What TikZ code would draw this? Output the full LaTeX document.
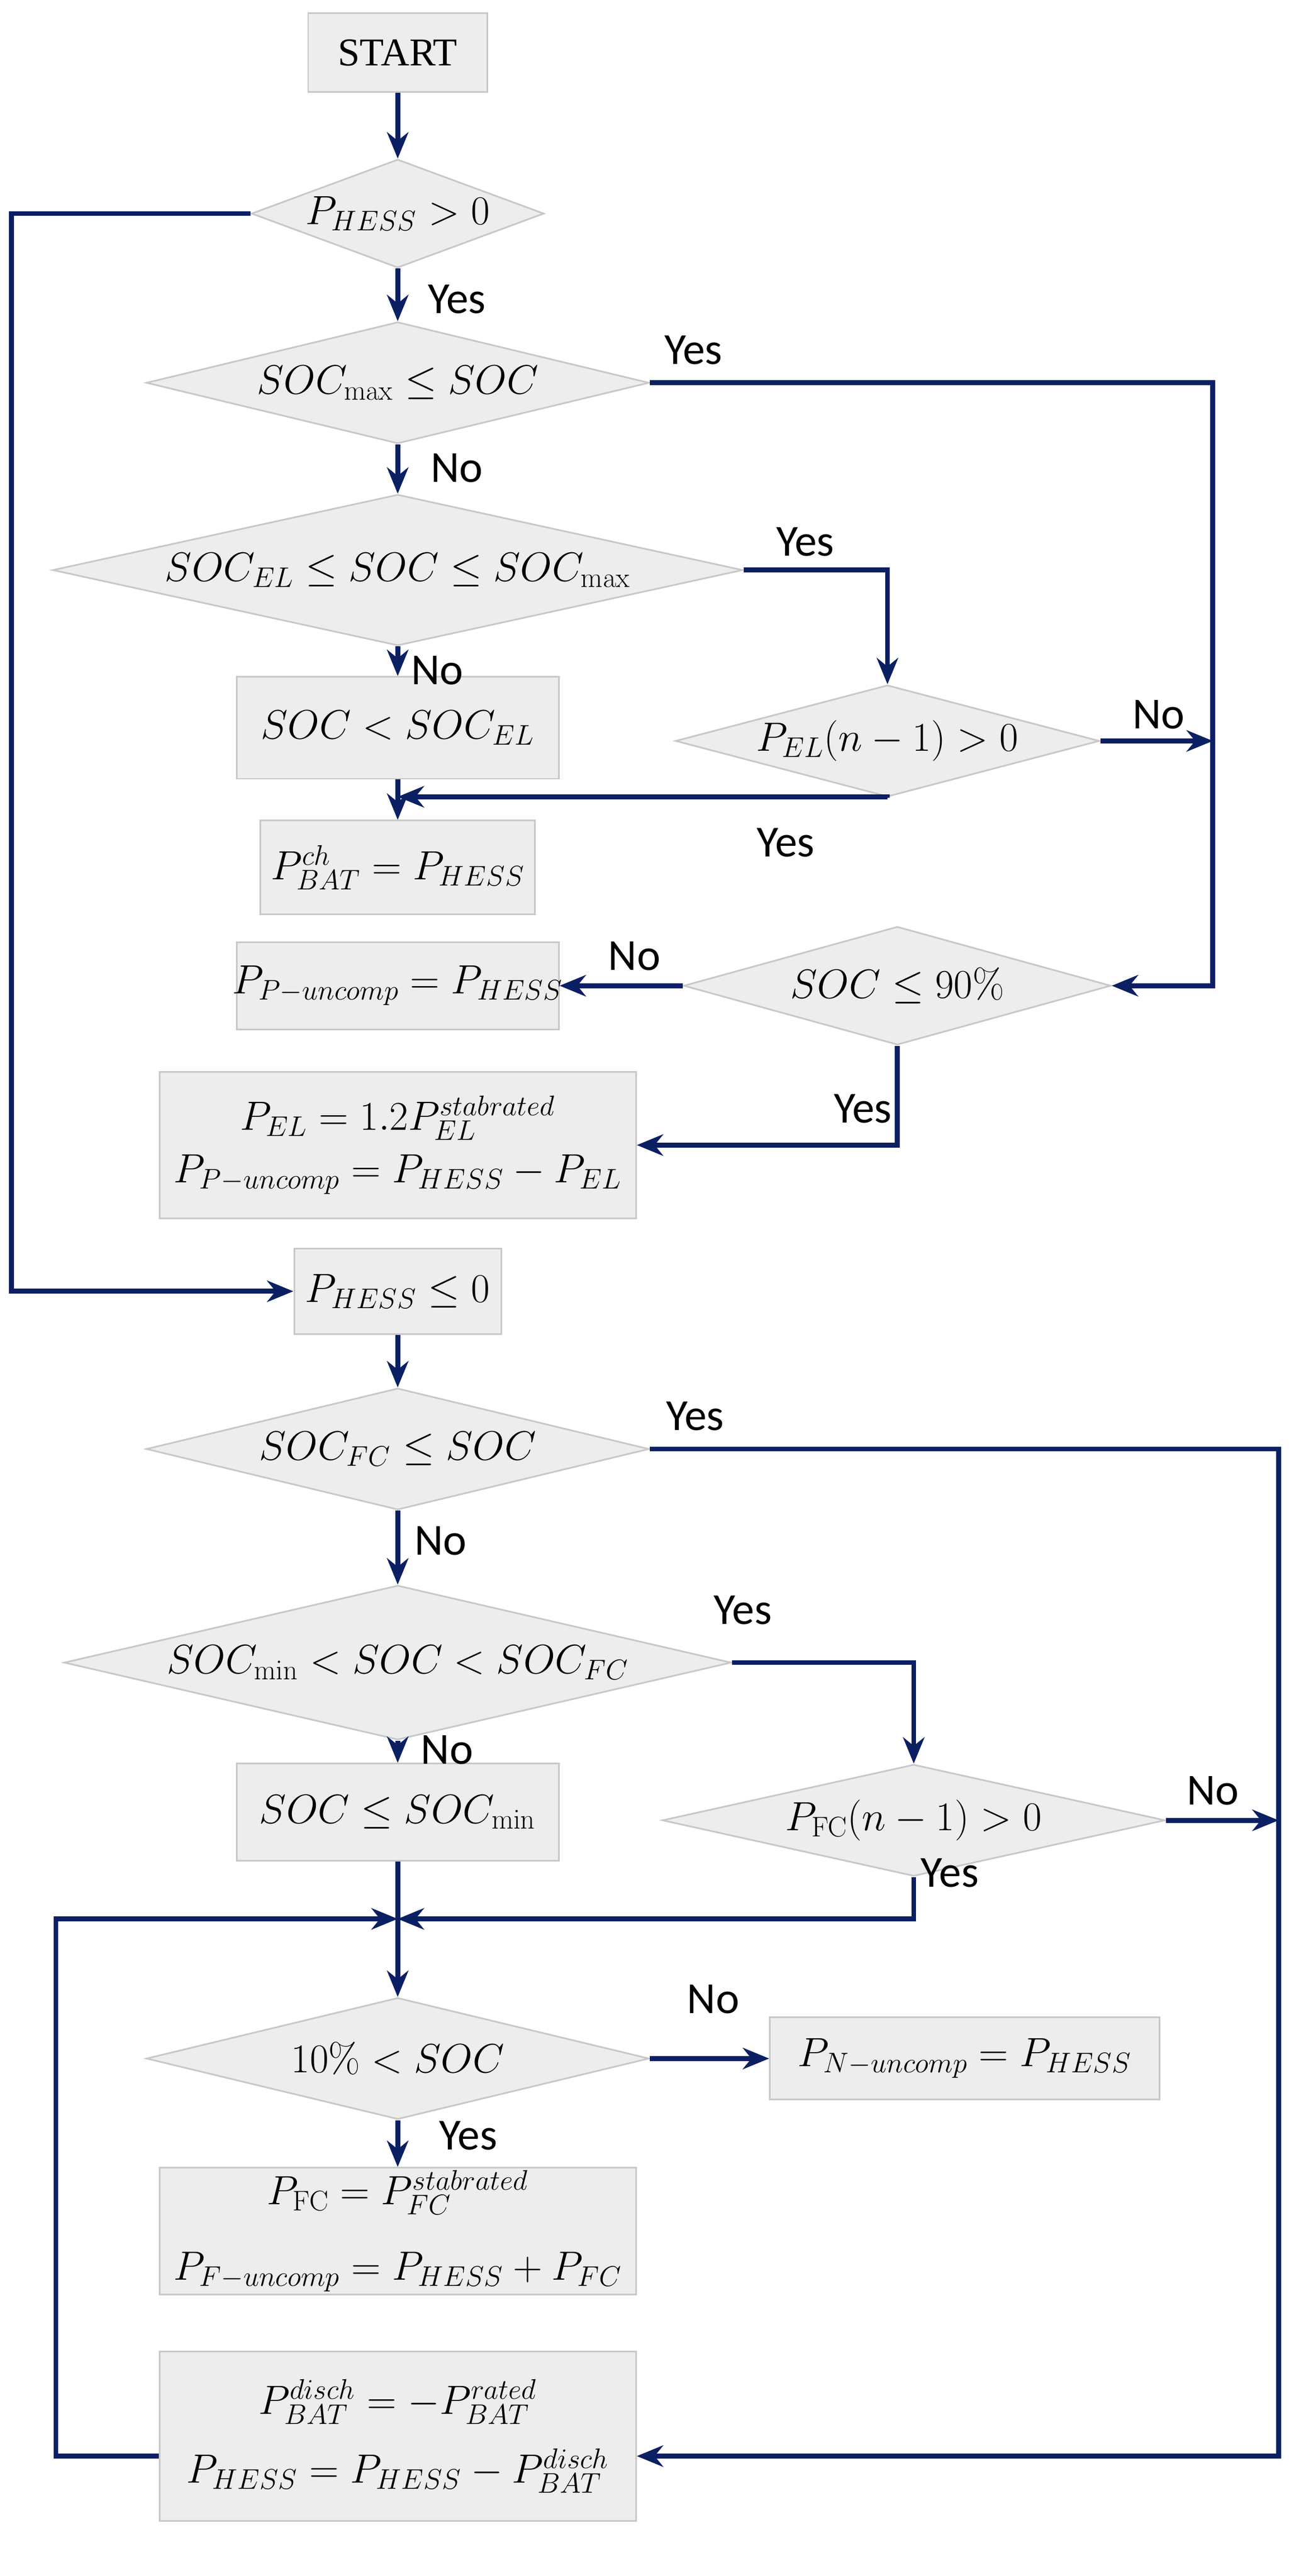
\documentclass[tikz,border=0pt]{standalone}
\usepackage[no-math]{fontspec}
\setmainfont{Carlito}
\usetikzlibrary{shapes.geometric,arrows.meta}
\definecolor{ln}{HTML}{0B1F63}
\definecolor{bg}{HTML}{EDEDED}
\definecolor{bd}{HTML}{C8C8C8}
\begin{document}
\begin{tikzpicture}[x=1pt,y=-1pt,
  dia/.style={diamond,draw=bd,fill=bg,line width=1pt,inner sep=0pt},
  box/.style={rectangle,draw=bd,fill=bg,line width=1pt,inner sep=0pt},
  txt/.style={inner sep=0pt,font=\fontsize{27}{34}\selectfont,align=center},
  lab/.style={inner sep=0pt,font=\fontsize{27}{30}\selectfont},
  c/.style={line width=3pt,draw=ln},
  arr/.style={c,-{Stealth[length=16pt,width=13pt]}}]
\useasboundingbox (0,0) rectangle (784,1568);
\newcommand\mydia[5]{\node[dia,minimum width=#3,minimum height=#4] (#1) at #2 {};\node[txt] (#1t) at #2 {#5};}
\newcommand\mybox[5]{\node[box,minimum width=#3,minimum height=#4] (#1) at #2 {};\node[txt] (#1t) at #2 {#5};}
\mybox{start}{(242,32)}{109}{48}{\fontsize{24}{28}\selectfont\fontspec{Liberation Serif}START}
\mydia{d1}{(242,130)}{178}{66}{$P_{HESS}>0$}
\mydia{d2}{(242,233)}{306}{74}{$SOC_{\max}\le SOC$}
\mydia{d3}{(242,347)}{420}{92}{$SOC_{EL}\le SOC\le SOC_{\max}$}
\mybox{socel}{(242,443)}{196}{62}{$SOC<SOC_{EL}$}
\mydia{d4}{(540,451)}{258}{68}{$P_{EL}(n-1)>0$}
\mybox{bch}{(242,528)}{167}{57}{$P_{BAT}^{ch}=P_{HESS}$}
\mydia{d5}{(546,600)}{260}{72}{$SOC\le 90\%$}
\mybox{pun}{(242,600)}{196}{53}{\fontsize{24}{30}\selectfont$P_{P-uncomp}=P_{HESS}$}
\mybox{el}{(242,697)}{290}{89}{$P_{EL}=1.2P_{EL}^{stabrated}$\\[-2pt]$P_{P-uncomp}=P_{HESS}-P_{EL}$}
\mybox{hle}{(242,786)}{126}{52}{$P_{HESS}\le 0$}
\mydia{d6}{(242,882)}{306}{74}{$SOC_{FC}\le SOC$}
\mydia{d7}{(242,1012)}{406}{94}{$SOC_{\min}<SOC<SOC_{FC}$}
\mybox{somin}{(242,1103)}{196}{59}{$SOC\le SOC_{\min}$}
\mydia{d8}{(556,1108)}{306}{68}{$P_{\mathrm{FC}}(n-1)>0$}
\mydia{d9}{(242,1253)}{306}{74}{$10\%<SOC$}
\mybox{nun}{(587,1253)}{237}{50}{$P_{N-uncomp}=P_{HESS}$}
\mybox{fc}{(242,1358)}{290}{77}{$P_{\mathrm{FC}}=P_{FC}^{stabrated}$\\[12pt]$P_{F-uncomp}=P_{HESS}+P_{FC}$}
\mybox{bat}{(242,1483)}{290}{103}{$P_{BAT}^{disch}=-P_{BAT}^{rated}$\\[8pt]$P_{HESS}=P_{HESS}-P_{BAT}^{disch}$}
\coordinate (cL1) at (7,130);
\coordinate (cR1) at (738,233);
\coordinate (cR2) at (738,451);
\coordinate (m1) at (242,485);
\coordinate (cR3) at (778,882);
\coordinate (cR4) at (778,1108);
\coordinate (m2) at (242,1168);
\coordinate (cL2) at (34,1495);
\draw[arr] (start) -- (d1);
\draw[arr] (d1.west) -- (cL1) |- (hle.west);
\draw[arr] (d1.south) -- (d2.north);
\draw[arr] (d2.east) -- (cR1) |- (d5.east);
\draw[arr] (d2.south) -- (d3.north);
\draw[arr] (d3.east) -| (d4.north);
\draw[arr] (d3.south) -- (socel.north);
\draw[arr] (d4.east) -- (cR2);
\draw[arr] (d4.south) |- (m1);
\draw[arr] (socel.south) -- (bch.north);
\draw[arr] (d5.west) -- (pun.east);
\draw[arr] (d5.south) |- (el.east);
\draw[arr] (hle.south) -- (d6.north);
\draw[arr] (d6.east) -- (cR3) |- (cL2 -| bat.east);
\draw[arr] (d6.south) -- (d7.north);
\draw[arr] (d7.east) -| (d8.north);
\draw[arr] (d7.south) -- (somin.north);
\draw[arr] (d8.east) -- (cR4);
\draw[arr] (d8.south) |- (m2);
\draw[c] (somin.south) -- (m2);
\draw[arr] (m2) -- (d9.north);
\draw[arr] (cL2 -| bat.west) -- (cL2) |- (m2);
\draw[arr] (d9.east) -- (nun.west);
\draw[arr] (d9.south) -- (fc.north);
\node[lab] (y1) at (278,182) {Yes};
\node[lab] (y2) at (422,213) {Yes};
\node[lab] (n1) at (278,285) {No};
\node[lab] (y3) at (490,330) {Yes};
\node[lab] (n2) at (266,408) {No};
\node[lab] (n3) at (705,435) {No};
\node[lab] (y4) at (478,513) {Yes};
\node[lab] (n4) at (386,582) {No};
\node[lab] (y5) at (525,675) {Yes};
\node[lab] (y6) at (423,862) {Yes};
\node[lab] (n5) at (268,938) {No};
\node[lab] (y7) at (452,980) {Yes};
\node[lab] (n6) at (272,1065) {No};
\node[lab] (n7) at (738,1090) {No};
\node[lab] (y8) at (578,1140) {Yes};
\node[lab] (n8) at (434,1217) {No};
\node[lab] (y9) at (285,1300) {Yes};
\end{tikzpicture}
\end{document}
